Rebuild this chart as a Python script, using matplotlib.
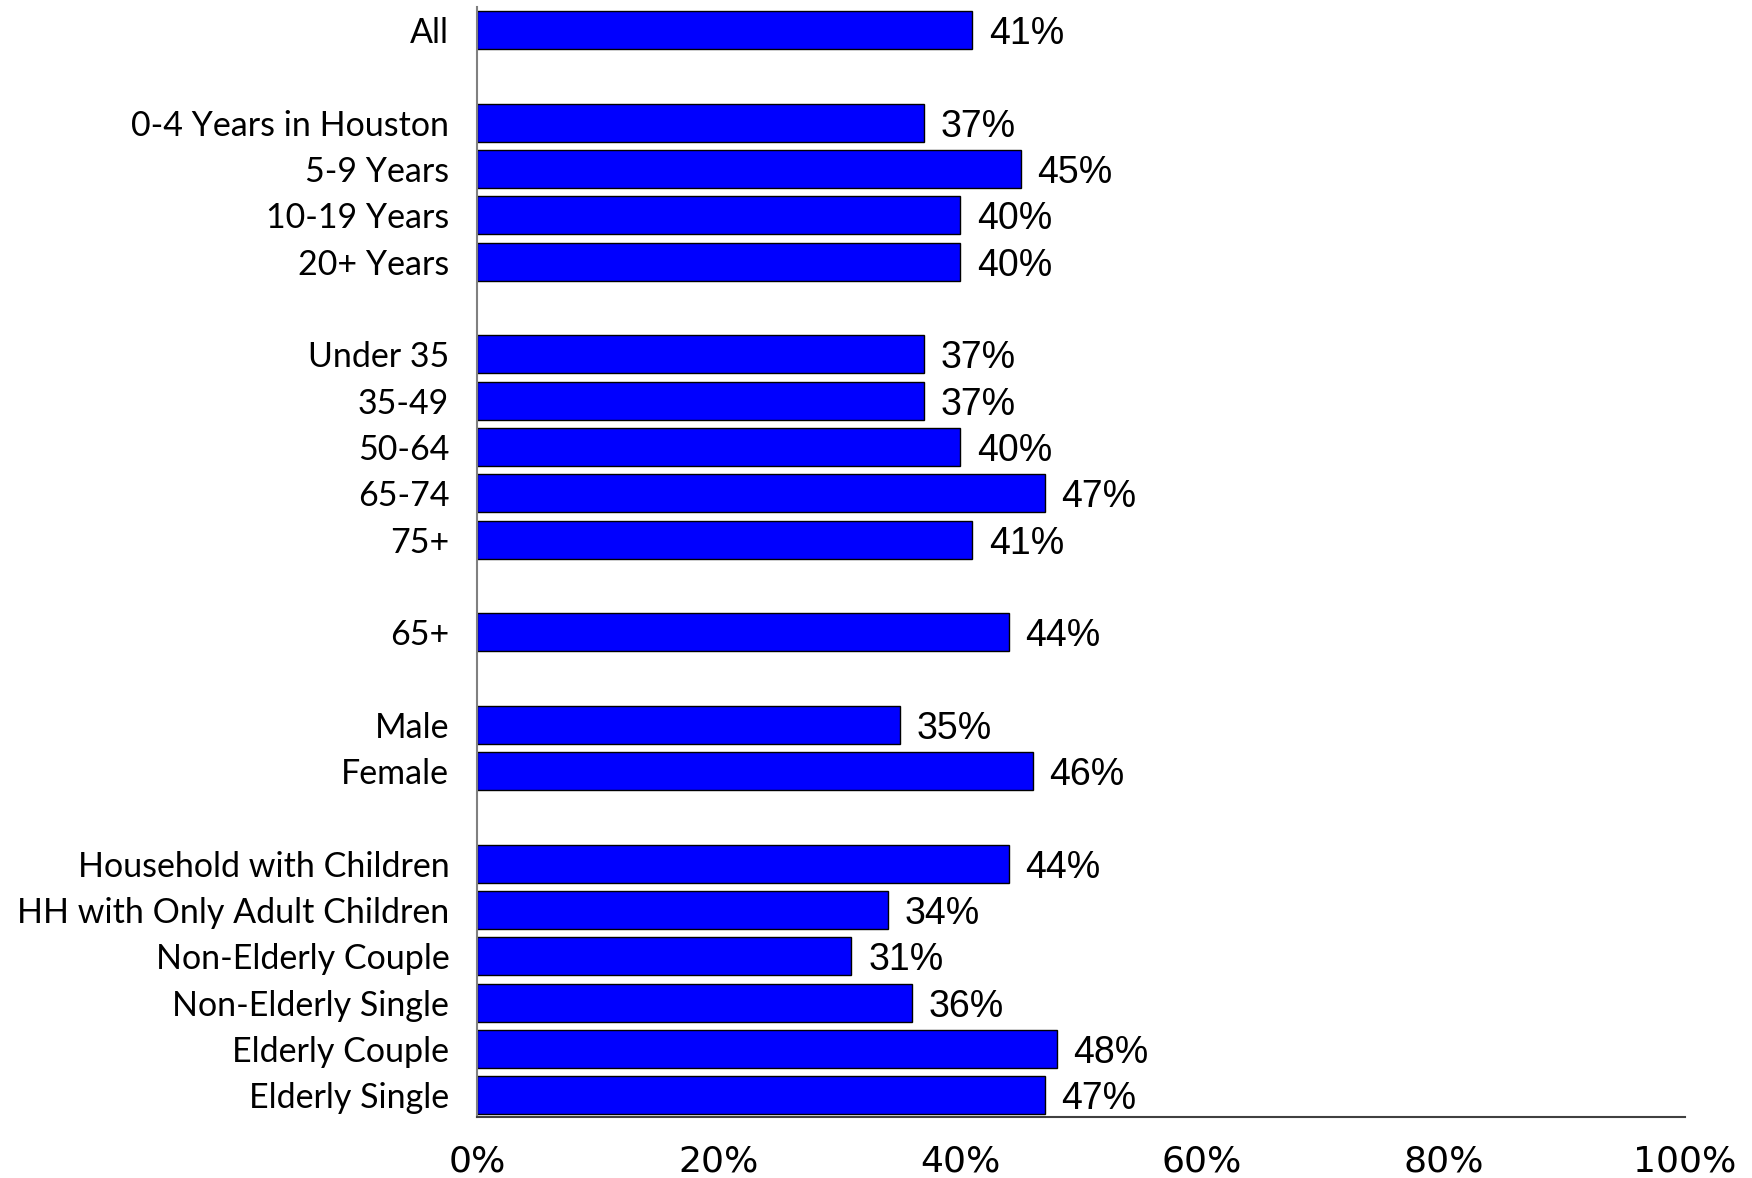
import matplotlib.pyplot as plt

# groups of categories, drawn top to bottom with an empty row between groups
groups = [
    ["All"],
    ["0-4 Years in Houston", "5-9 Years", "10-19 Years", "20+ Years"],
    ["Under 35", "35-49", "50-64", "65-74", "75+"],
    ["65+"],
    ["Male", "Female"],
    ["Household with Children", "HH with Only Adult Children", "Non-Elderly Couple",
     "Non-Elderly Single", "Elderly Couple", "Elderly Single"],
]
values = [
    [41],
    [37, 45, 40, 40],
    [37, 37, 40, 47, 41],
    [44],
    [35, 46],
    [44, 34, 31, 36, 48, 47],
]
xticks = [0, 20, 40, 60, 80, 100]

labels, vals, pos = [], [], []
row = 0
for g, v in zip(groups, values):
    for lab, val in zip(g, v):
        labels.append(lab)
        vals.append(val)
        pos.append(row)
        row += 1
    row += 1

fig = plt.figure(figsize=(17.52, 11.78), dpi=100)
ax = fig.add_axes([0.2723, 0.0518, 0.6894, 0.9422])

ax.barh(pos, vals, height=0.82, color="#0000FF", edgecolor="black", linewidth=1)
for p, v in zip(pos, vals):
    ax.annotate(f"{v}%", (v, p), xytext=(12, 0), textcoords="offset points",
                va="center_baseline", ha="left", fontsize=27, family="Liberation Sans")

ax.set_xlim(0, 100)
ax.set_ylim(pos[-1] + 0.47, -0.5)
ax.set_yticks(pos)
ax.set_yticklabels(labels, fontsize=24.5, family=["Lato", "DejaVu Sans"])
ax.set_xticks(xticks)
ax.set_xticklabels([f"{t}%" for t in xticks], fontsize=26,
                   family=["Liberation Sans Narrow", "DejaVu Sans"])
ax.tick_params(axis="y", length=0, pad=20)
ax.tick_params(axis="x", length=0, pad=20)

for s in ["top", "right"]:
    ax.spines[s].set_visible(False)
ax.spines["left"].set_color("#808080")
ax.spines["left"].set_linewidth(1.5)
ax.spines["bottom"].set_color("#404040")
ax.spines["bottom"].set_linewidth(1.5)

fig.savefig("out.png", dpi=100)
